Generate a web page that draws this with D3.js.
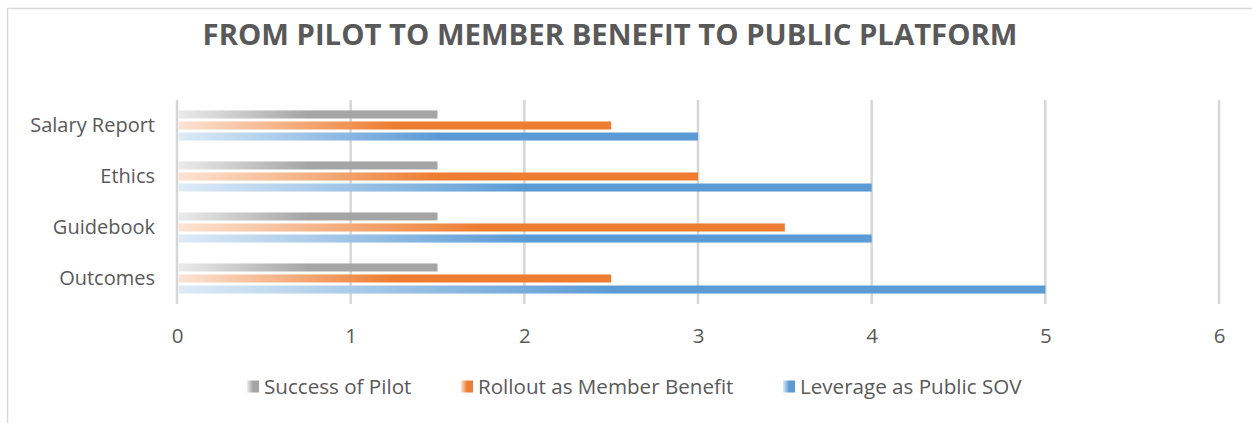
<!DOCTYPE html>
<html>
<head>
<meta charset="utf-8">
<script src="https://cdn.jsdelivr.net/npm/d3@7"></script>
<style>
    body { margin: 0; background: #fff; }
    text { font-family: "Open Sans", sans-serif; fill: #595959; }
</style>
</head>
<body>
<script>
//chart data
var categories = ["Salary Report", "Ethics", "Guidebook", "Outcomes"];
var seriesNames = ["Success of Pilot", "Rollout as Member Benefit", "Leverage as Public SOV"];
var pilotValues = [1.5, 1.5, 1.5, 1.5];
var rolloutValues = [2.5, 3, 3.5, 2.5];
var leverageValues = [3, 4, 4, 5];
var xTicks = [0, 1, 2, 3, 4, 5, 6];
var titleText = "FROM PILOT TO MEMBER BENEFIT TO PUBLIC PLATFORM";

var seriesValues = [pilotValues, rolloutValues, leverageValues];
//light start colour and full colour of each series gradient
var seriesColors = [
    ["#ebebeb", "#a5a5a5"],
    ["#fce3d4", "#ed7d31"],
    ["#deebf7", "#5b9bd5"]
];

var width = 1252,
    height = 423;

var svg = d3.select("body")
    .append("svg")
    .attr("width", width)
    .attr("height", height);

//chart frame (right and bottom edges fall outside the picture)
svg.append("rect")
    .attr("x", 7.5)
    .attr("y", 8.5)
    .attr("width", 1300)
    .attr("height", 500)
    .attr("fill", "#fff")
    .attr("stroke", "#d9d9d9")
    .attr("stroke-width", 1.5);

//gradients for the bars
var defs = svg.append("defs");
seriesColors.forEach(function(c, i){
    var grad = defs.append("linearGradient")
        .attr("id", "grad" + i)
        .attr("x1", 0).attr("x2", 1)
        .attr("y1", 0).attr("y2", 0);
    grad.append("stop").attr("offset", "0%").attr("stop-color", c[0]);
    grad.append("stop").attr("offset", "50%").attr("stop-color", c[1]);
    grad.append("stop").attr("offset", "100%").attr("stop-color", c[1]);
});

//scales
var x = d3.scaleLinear()
    .domain([0, 6])
    .range([177, 1219]);

var y = d3.scaleBand()
    .domain(categories)
    .range([100, 304])
    .paddingInner(0.41)
    .paddingOuter(0.205);

var ySub = d3.scaleBand()
    .domain(d3.range(seriesNames.length))
    .range([0, y.bandwidth()])
    .paddingInner(0.27);

//title
svg.append("text")
    .attr("x", 610)
    .attr("y", 45)
    .attr("text-anchor", "middle")
    .style("font-weight", "bold")
    .style("font-size", "29.3px")
    .text(titleText);

//gridlines
svg.append("g")
    .selectAll("line")
    .data(xTicks)
    .enter()
    .append("line")
    .attr("x1", function(d){ return x(d); })
    .attr("x2", function(d){ return x(d); })
    .attr("y1", 100)
    .attr("y2", 304)
    .attr("stroke", "#d6d6d6")
    .attr("stroke-width", 2.5);

//bars
var groups = svg.append("g")
    .selectAll("g")
    .data(categories)
    .enter()
    .append("g")
    .attr("transform", function(d){ return "translate(0," + y(d) + ")"; });

groups.selectAll("rect")
    .data(function(d, ci){
        return seriesValues.map(function(vals, si){ return {s: si, v: vals[ci]}; });
    })
    .enter()
    .append("rect")
    .attr("x", x(0) + 1.5)
    .attr("y", function(d){ return ySub(d.s); })
    .attr("width", function(d){ return x(d.v) - x(0) - 1.5; })
    .attr("height", ySub.bandwidth())
    .attr("fill", function(d){ return "url(#grad" + d.s + ")"; });

//x axis labels
var xAxis = d3.axisBottom(x)
    .tickValues(xTicks)
    .tickSize(0)
    .tickPadding(0)
    .tickFormat(d3.format("d"));

var xg = svg.append("g")
    .attr("transform", "translate(0,328.5)")
    .call(xAxis);
xg.select(".domain").remove();
xg.selectAll("text")
    .style("font-size", "20.5px")
    .attr("fill", "#595959")
    .attr("font-family", null);

//category labels
var yAxis = d3.axisLeft(y)
    .tickSize(0)
    .tickPadding(0);

var yg = svg.append("g")
    .attr("transform", "translate(155,0)")
    .call(yAxis);
yg.select(".domain").remove();
yg.selectAll("text")
    .style("font-size", "20px")
    .attr("fill", "#595959")
    .attr("font-family", null);

//legend
var legendX = [247, 461, 783];
var legend = svg.append("g")
    .selectAll("g")
    .data(seriesNames)
    .enter()
    .append("g")
    .attr("transform", function(d, i){ return "translate(" + legendX[i] + ",380.5)"; });

legend.append("rect")
    .attr("width", 12)
    .attr("height", 12)
    .attr("fill", function(d, i){ return "url(#grad" + i + ")"; });

legend.append("text")
    .attr("x", 17)
    .attr("y", 6)
    .attr("dy", "0.35em")
    .style("font-size", "20.6px")
    .text(function(d){ return d; });
</script>
</body>
</html>
